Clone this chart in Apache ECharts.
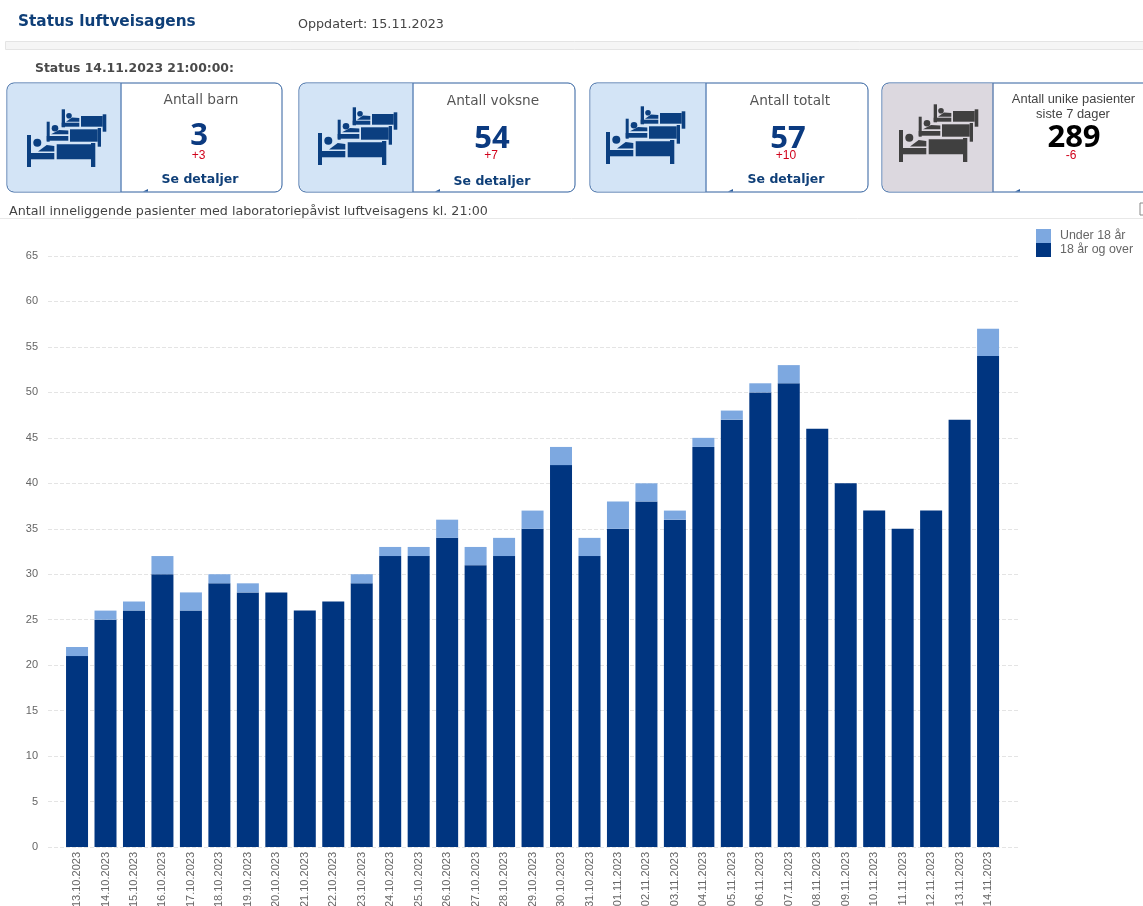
<!DOCTYPE html>
<html><head><meta charset="utf-8">
<style>html,body{margin:0;padding:0;background:#fff}#c{width:1143px;height:906px}</style>
<script src="https://cdn.jsdelivr.net/npm/echarts@6/dist/echarts.min.js"></script>
</head><body><div id="c"></div>
<script>
const categories = ["13.10.2023","14.10.2023","15.10.2023","16.10.2023","17.10.2023","18.10.2023","19.10.2023","20.10.2023","21.10.2023","22.10.2023","23.10.2023","24.10.2023","25.10.2023","26.10.2023","27.10.2023","28.10.2023","29.10.2023","30.10.2023","31.10.2023","01.11.2023","02.11.2023","03.11.2023","04.11.2023","05.11.2023","06.11.2023","07.11.2023","08.11.2023","09.11.2023","10.11.2023","11.11.2023","12.11.2023","13.11.2023","14.11.2023"];
const adults = [21,25,26,30,26,29,28,28,26,27,29,32,32,34,31,32,35,42,32,35,38,36,44,47,50,51,46,40,37,35,37,47,54];
const children = [1,1,1,2,2,1,1,0,0,0,1,1,1,2,2,2,2,2,2,3,2,1,1,1,1,2,0,0,0,0,0,0,3];
const adultName = "18 år og over";
const childName = "Under 18 år";

const NAVY = "#003580", LIGHT = "#7da8e0", BORDER = "#2f5f9e";
const SANS = "'DejaVu Sans'", BODY = "'Open Sans'", ARIAL = "'Liberation Sans'";

function txt(x, y, text, size, color, weight, align, family) {
  return {type:'text', x, y, silent:true, z:10, style:{text, fontSize:size, fill:color, fontWeight:weight||'normal',
    align:align||'center', verticalAlign:'middle', fontFamily:family||SANS}};
}
function bed(ox, oy, c, b) {
  const out = [];
  const add = (x1,y1,x2,y2) => out.push({type:'rect', silent:true, z:5, shape:{x:ox+x1,y:oy+y1,width:x2-x1,height:y2-y1}, style:{fill:c}});
  add(b.post[0], b.post[1], b.post[2], b.post[3]);
  add(b.post[0], b.rail[0], b.rail[2], b.rail[1]);
  add(b.body[0], b.body[1], b.body[2], b.body[3]);
  add(b.foot[0], b.foot[1], b.foot[2], b.foot[3]);
  out.push({type:'circle', silent:true, z:5, shape:{cx:ox+b.head[0],cy:oy+b.head[1],r:b.head[2]}, style:{fill:c}});
  out.push({type:'polygon', silent:true, z:5, shape:{points:b.wedge.map(p=>[ox+p[0],oy+p[1]])}, style:{fill:c}});
  return out;
}
const backBed = {post:[61.7,109.3,65,127.3], rail:[122.7,126.7,79.3], body:[81,116,102.7,126.7], foot:[102.7,114.3,106.3,131.7], head:[69,115.7,2.8], wedge:[[66,121.7],[79.3,121.7],[79.3,118],[72,117.5]]};
const midBed = {post:[46.7,121.7,49.7,141.7], rail:[136,140.7,68.3], body:[70,129.3,97.7,141.7], foot:[97.7,128,101,146.7], head:[55,128.3,3.3], wedge:[[51,134.3],[68.3,134.3],[68.3,130.5],[59,130]]};
const frontBed = {post:[27,135,31,167], rail:[153,159.3,54.3], body:[56.7,144.3,91,159.3], foot:[91,143,95.3,167], head:[37.3,142.7,4], wedge:[[38,151.5],[54.3,151.5],[54.3,146],[46.7,145]]};
function icon(ox, oy, c) {
  return [...bed(ox,oy,c,backBed), ...bed(ox,oy,c,midBed), ...bed(ox,oy,c,frontBed)];
}
function card(x, w, div, fill) {
  const y = 83, h = 109;
  return [
    {type:'rect', silent:true, z:1, shape:{x,y,width:w,height:h,r:7}, style:{fill:'#fff', stroke:BORDER, lineWidth:1}},
    {type:'rect', silent:true, z:2, shape:{x:x+.5,y:y+.5,width:div-x,height:h-1,r:[7,0,0,7]}, style:{fill}},
    {type:'line', silent:true, z:3, shape:{x1:div,y1:y,x2:div,y2:y+h}, style:{stroke:BORDER, lineWidth:1}},
    {type:'polygon', silent:true, z:3, shape:{points:[[div+27,y+h-3],[div+22,y+h-.5],[div+27,y+h-.5]]}, style:{fill:BORDER}}
  ];
}
const g = [
  txt(18,22,"Status luftveisagens",15.3,"#0f3f78",'bold','left'),
  txt(298,24.5,"Oppdatert: 15.11.2023",12.7,"#444",'normal','left'),
  {type:'rect', silent:true, shape:{x:5.5,y:41.5,width:1140,height:8}, style:{fill:'#f5f5f5', stroke:'#e4e4e4', lineWidth:1}},
  txt(35,68.5,"Status 14.11.2023 21:00:00:",12.4,"#4a4a4a",'bold','left'),
  ...card(7,275,121,'#d3e4f6'), ...icon(0,0,'#0b3f80'),
  txt(201,100,"Antall barn",13.7,"#555"),
  txt(199,136,"3",31,"#0b3a80",'bold','center',BODY),
  txt(198.5,155.5,"+3",12,"#d0021b",'normal','center',ARIAL),
  txt(200,180,"Se detaljer",12.5,"#0f3f78",'bold'),
  ...card(299,276,413,'#d3e4f6'), ...icon(291,-2,'#0b3f80'),
  txt(493,101,"Antall voksne",13.7,"#555"),
  txt(492,139,"54",31,"#0b3a80",'bold','center',BODY),
  txt(491,155.5,"+7",12,"#d0021b",'normal','center',ARIAL),
  txt(492,182,"Se detaljer",12.5,"#0f3f78",'bold'),
  ...card(590,278,706,'#d3e4f6'), ...icon(579,-3,'#0b3f80'),
  txt(790,101,"Antall totalt",13.7,"#555"),
  txt(788,139,"57",31,"#0b3a80",'bold','center',BODY),
  txt(786,156,"+10",12,"#d0021b",'normal','center',ARIAL),
  txt(786,180,"Se detaljer",12.5,"#0f3f78",'bold'),
  ...card(882,270,993,'#dcd8df'), ...icon(872,-5,'#404040'),
  txt(1073.5,99.5,"Antall unike pasienter",12.9,"#444",'normal','center',ARIAL),
  txt(1073,114.5,"siste 7 dager",12.9,"#444",'normal','center',ARIAL),
  txt(1074,138.5,"289",31,"#000",'bold','center',BODY),
  txt(1071,156,"-6",12,"#d0021b",'normal','center',ARIAL),
  txt(9,212,"Antall inneliggende pasienter med laboratoriepåvist luftveisagens kl. 21:00",12.7,"#444",'normal','left'),
  {type:'line', silent:true, shape:{x1:0,y1:218.5,x2:1143,y2:218.5}, style:{stroke:'#e8e8e8', lineWidth:1}},
  {type:'rect', silent:true, shape:{x:1140,y:203,width:4,height:12}, style:{fill:'#fff', stroke:'#888', lineWidth:1}}
];

const chart = echarts.init(document.getElementById('c'), null, {renderer:'canvas'});
const TOP = 256, H = 591;
chart.setOption({
  animation:false,
  backgroundColor:'#fff',
  graphic:{elements:g},
  legend:{orient:'vertical', left:1036, top:229, itemWidth:15, itemHeight:14, itemGap:0, padding:0, selectedMode:false,
    icon:'rect', data:[childName, adultName],
    textStyle:{fontFamily:ARIAL, fontSize:12.4, color:'#666', padding:[0,0,0,4], lineHeight:14}},
  grid:[
    {left:48, width:970, top:TOP, height:H, outerBoundsMode:'none'},
    {left:62.8, width:939.5, top:TOP, height:H, outerBoundsMode:'none'}
  ],
  xAxis:[
    {gridIndex:0, type:'category', data:[], show:false},
    {gridIndex:1, type:'category', data:categories,
      axisLine:{show:false}, axisTick:{show:false},
      axisLabel:{rotate:90, interval:0, margin:5, fontFamily:ARIAL, fontSize:11, color:'#666'}}
  ],
  yAxis:[
    {gridIndex:0, type:'value', min:0, max:65, interval:5,
      axisLine:{show:false}, axisTick:{show:false},
      axisLabel:{margin:10, fontFamily:ARIAL, fontSize:11, color:'#666'},
      splitLine:{lineStyle:{color:'#e4e4e4', type:'dashed', width:1}}},
    {gridIndex:1, type:'value', min:0, max:65, interval:5, show:false, splitLine:{show:false}}
  ],
  series:[
    {name:adultName, type:'bar', xAxisIndex:1, yAxisIndex:1, stack:'a', barWidth:22, data:adults, itemStyle:{color:NAVY}},
    {name:childName, type:'bar', xAxisIndex:1, yAxisIndex:1, stack:'a', barWidth:22, data:children, itemStyle:{color:LIGHT}}
  ]
});
</script></body></html>
